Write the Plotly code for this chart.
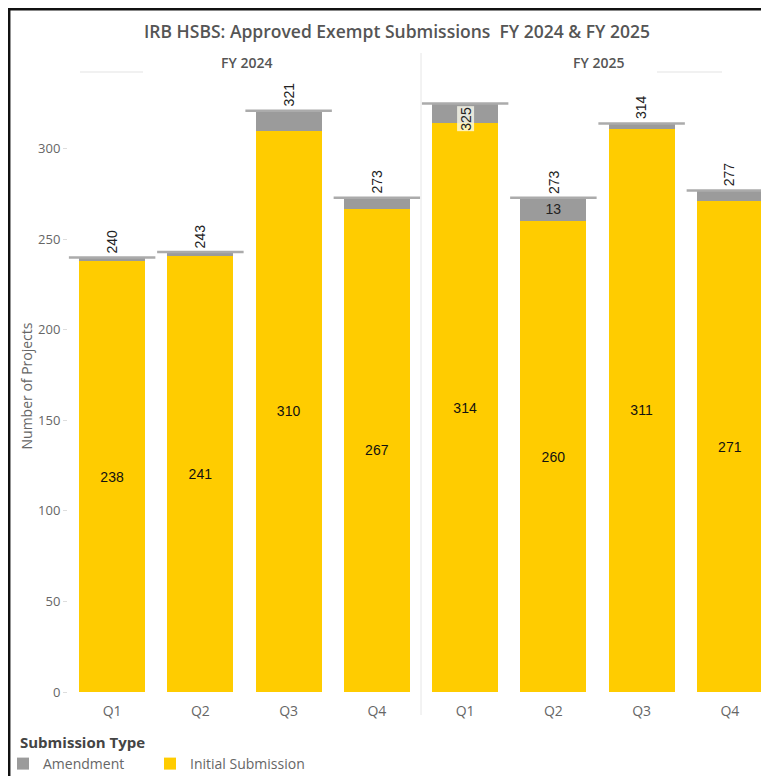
import plotly.graph_objects as go

quarters = ["Q1", "Q2", "Q3", "Q4"]
fy2024_initial = [238, 241, 310, 267]
fy2024_amendment = [2, 2, 11, 6]
fy2024_total = [240, 243, 321, 273]
fy2025_initial = [314, 260, 311, 271]
fy2025_amendment = [11, 13, 3, 6]
fy2025_total = [325, 273, 314, 277]

YELLOW = "#FFCC00"
GRAY = "#9B9B9B"
LINEGRAY = "#ABABAB"
TXT = "#666666"
FONT = "Open Sans"

# the page body adds an 8px margin; targets below are in screenshot pixels
OFF = 8
W, H = 769 - OFF, 776 - OFF
ML, MR, MT, MB = 68 - OFF, 0, 80 - OFF, 776 - 692
PW = W - ML - MR
PH = H - MT - MB
split = 353 / PW
cat_px = 353 / 4
ymax = 338


def px_x(p):
    return (p - OFF - ML) / PW


def px_y(p):
    return (H - MB - (p - OFF)) / PH


fig = go.Figure()

panels = [
    ("x", fy2024_initial, fy2024_amendment, fy2024_total, True),
    ("x2", fy2025_initial, fy2025_amendment, fy2025_total, False),
]

for xa, ini, amd, tot, show in panels:
    fig.add_trace(go.Bar(
        x=quarters, y=ini, xaxis=xa, yaxis="y", name="Initial Submission",
        marker=dict(color=YELLOW, line=dict(width=0)),
        text=[str(v) for v in ini], textposition="inside", insidetextanchor="middle",
        textangle=0, constraintext="none",
        textfont=dict(family="Liberation Sans, Arial", size=14, color="#111111"),
        showlegend=show, legend="legend2", hoverinfo="skip",
    ))
    fig.add_trace(go.Bar(
        x=quarters, y=amd, xaxis=xa, yaxis="y", name="Amendment",
        marker=dict(color=GRAY, line=dict(width=0)),
        text=[str(v) if v >= 13 else "" for v in amd], textposition="inside",
        insidetextanchor="middle", textangle=0, constraintext="none",
        textfont=dict(family="Liberation Sans, Arial", size=14, color="#222222"),
        showlegend=show, legend="legend", hoverinfo="skip",
    ))
    for i, t in enumerate(tot):
        fig.add_shape(type="line", xref=xa, yref="y", x0=i - 0.49, x1=i + 0.49,
                      y0=t, y1=t, line=dict(color=LINEGRAY, width=2.5), layer="above")
        inside = t > 322
        fig.add_annotation(
            x=i, y=t, xref=xa, yref="y", text=str(t), textangle=-90, showarrow=False,
            yanchor="top" if inside else "bottom", yshift=-2 if inside else 3,
            font=dict(family="Liberation Sans, Arial", size=14, color="#222222"),
            bgcolor="rgba(255,255,240,0.75)" if inside else None,
            borderpad=0,
        )

xaxis_common = dict(
    type="category", showgrid=False, zeroline=False, showline=False,
    ticks="outside", ticklen=6, tickcolor="rgba(0,0,0,0)",
    tickfont=dict(family=FONT, size=14, color=TXT), fixedrange=True,
)

legend_common = dict(
    orientation="h", xanchor="left", y=px_y(764), yanchor="middle",
    font=dict(family=FONT, size=14, color=TXT),
    itemclick=False, itemdoubleclick=False, bgcolor="rgba(0,0,0,0)",
)

fig.update_layout(
    width=W, height=H,
    margin=dict(l=ML, r=MR, t=MT, b=MB, autoexpand=False),
    paper_bgcolor="white", plot_bgcolor="white",
    barmode="stack", bargap=0.25,
    font=dict(family=FONT, color=TXT),
    title=dict(
        text="IRB HSBS: Approved Exempt Submissions  FY 2024 &amp; FY 2025",
        x=(397 - OFF) / W, xref="container", xanchor="center",
        y=1 - (32 - OFF) / H, yref="container", yanchor="middle",
        font=dict(family=FONT, size=17.5, color="#555555", weight=600),
    ),
    xaxis=dict(domain=[0, split], range=[-0.5, 3.5], automargin=False, **xaxis_common),
    xaxis2=dict(domain=[split, 1], range=[-0.5, -0.5 + (PW - 353) / cat_px],
                anchor="y", automargin=False, **xaxis_common),
    yaxis=dict(
        range=[0, ymax], tickvals=[0, 50, 100, 150, 200, 250, 300],
        showgrid=False, zeroline=False, showline=False, automargin=False,
        ticks="outside", ticklen=4, tickcolor="#DDDDDD",
        tickfont=dict(family=FONT, size=13, color=TXT),
        title=dict(text="Number of Projects", standoff=2,
                   font=dict(family=FONT, size=14, color=TXT)),
        fixedrange=True,
    ),
    legend=dict(x=px_x(3), **legend_common),
    legend2=dict(x=px_x(150), **legend_common),
    showlegend=True,
)

# legend title
fig.add_annotation(x=px_x(18), y=px_y(742), xref="paper", yref="paper",
                   text="<b>Submission Type</b>", showarrow=False,
                   xanchor="left", yanchor="middle",
                   font=dict(family=FONT, size=15, color="#444444"))

# facet headers
for label, cx in (("FY 2024", 246), ("FY 2025", 598)):
    fig.add_annotation(x=px_x(cx), y=px_y(62), xref="paper", yref="paper",
                       text=label, showarrow=False, xanchor="center", yanchor="middle",
                       font=dict(family=FONT, size=14, color="#555555", weight=600))

# header underline segments
for a, b in ((80, 143), (657, 722)):
    fig.add_shape(type="line", xref="paper", yref="paper",
                  x0=px_x(a), x1=px_x(b), y0=px_y(72), y1=px_y(72),
                  line=dict(color="#E3E3E3", width=1))

# panel divider
fig.add_shape(type="line", xref="paper", yref="paper",
              x0=split, x1=split, y0=px_y(715), y1=px_y(53),
              line=dict(color="#E6E6E6", width=1))

# outer frame (top and left)
fig.add_shape(type="line", xref="paper", yref="paper",
              x0=px_x(9.2), x1=px_x(790), y0=px_y(9.2), y1=px_y(9.2),
              line=dict(color="#111111", width=2.5))
fig.add_shape(type="line", xref="paper", yref="paper",
              x0=px_x(9.2), x1=px_x(9.2), y0=px_y(8), y1=px_y(800),
              line=dict(color="#111111", width=2.5))

fig.write_html("out.html", config={"displayModeBar": False})
